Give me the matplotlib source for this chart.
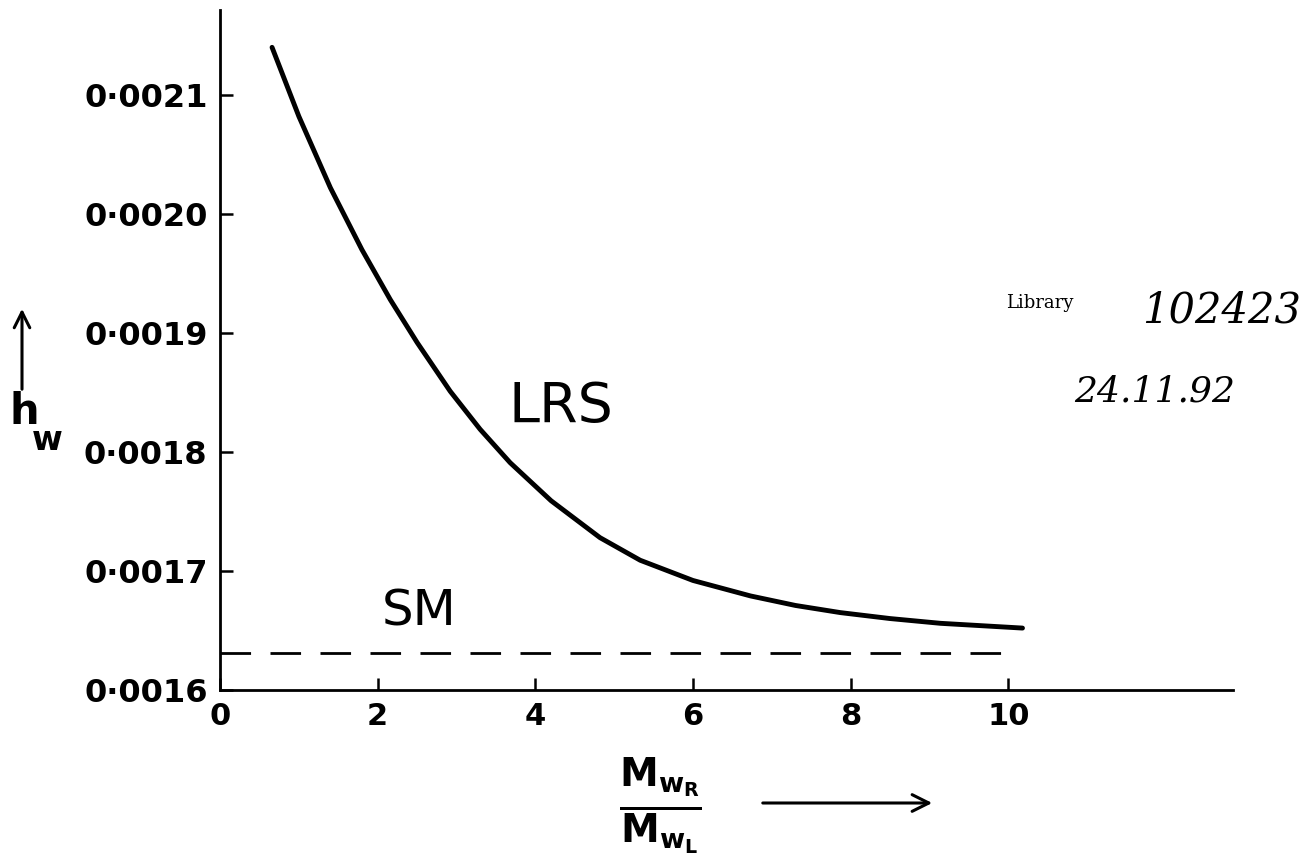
import numpy as np
import matplotlib.pyplot as plt

plt.rcParams['mathtext.fontset'] = 'dejavusans'
plt.rcParams['mathtext.default'] = 'bf'

# LRS curve
ratio = [0.66, 1.0, 1.4, 1.8, 2.16, 2.5, 2.92, 3.3, 3.68, 4.2, 4.82, 5.33, 6.0,
         6.73, 7.3, 7.87, 8.5, 9.14, 10.18]
h_lrs = [0.002140, 0.002082, 0.002022, 0.001970, 0.001928, 0.001892, 0.001851,
         0.001819, 0.001791, 0.001759, 0.001728, 0.001709, 0.001692, 0.001679,
         0.001671, 0.001665, 0.001660, 0.001656, 0.001652]

# SM level (dashed)
sm_x = [0, 10.1]
sm_h = [0.001631, 0.001631]

xticks = [0, 2, 4, 6, 8, 10]
xlabels = ['0', '2', '4', '6', '8', '10']
yticks = [0.0016, 0.0017, 0.0018, 0.0019, 0.0020, 0.0021]
ylabels = ['0·0016', '0·0017', '0·0018', '0·0019', '0·0020', '0·0021']

fig = plt.figure(figsize=(13.05, 8.67), dpi=100)
ax = fig.add_axes([0.1686, 0.2042, 0.7762, 0.7843])

ax.plot(ratio, h_lrs, color='black', lw=3.5, solid_capstyle='round', solid_joinstyle='round')
ax.plot(sm_x, sm_h, color='black', lw=2, dashes=(11, 7))

ax.text(4.32, 0.001838, 'LRS', fontsize=40, ha='center', va='center')
ax.text(2.53, 0.001666, 'SM', fontsize=36, ha='center', va='center')

ax.set_xlim(0, 12.85)
ax.set_ylim(0.0016, 0.0021714)
ax.set_xticks(xticks)
ax.set_xticklabels(xlabels, fontsize=22, fontweight='bold')
ax.set_yticks(yticks)
ax.set_yticklabels(ylabels, fontsize=23, fontweight='bold')
ax.tick_params(direction='in', length=9, width=1.8, pad=9)

for s in ['top', 'right']:
    ax.spines[s].set_visible(False)
for s in ['left', 'bottom']:
    ax.spines[s].set_linewidth(2)

# y label: arrow + h_w
W, H = 1305, 867
fig.text(24 / W, 1 - 412 / H, 'h', fontsize=30, fontweight='bold', ha='center', va='center')
fig.text(47 / W, 1 - 441 / H, 'w', fontsize=24, fontweight='bold', ha='center', va='center')
ax.annotate('', xy=(22 / W, 1 - 306 / H), xytext=(22 / W, 1 - 392 / H),
            xycoords='figure fraction', textcoords='figure fraction',
            arrowprops=dict(arrowstyle='->', lw=2.2, color='black', mutation_scale=28))

# x label: fraction + arrow
fig.text(660 / W, 1 - 806 / H, r'$\frac{M_{w_R}}{M_{w_L}}$', fontsize=40, ha='center', va='center')
ax.annotate('', xy=(935 / W, 1 - 803 / H), xytext=(760 / W, 1 - 803 / H),
            xycoords='figure fraction', textcoords='figure fraction',
            arrowprops=dict(arrowstyle='->', lw=2.2, color='black', mutation_scale=30))

# library stamp
fig.text(1040 / W, 1 - 303 / H, 'Library', fontsize=13, family='DejaVu Serif', ha='center', va='center')
fig.text(1222 / W, 1 - 310 / H, '102423', fontsize=30, style='italic', family='DejaVu Serif',
         ha='center', va='center')
fig.text(1155 / W, 1 - 392 / H, '24.11.92', fontsize=26, style='italic', family='DejaVu Serif',
         ha='center', va='center')

plt.savefig('out.png', dpi=100)
